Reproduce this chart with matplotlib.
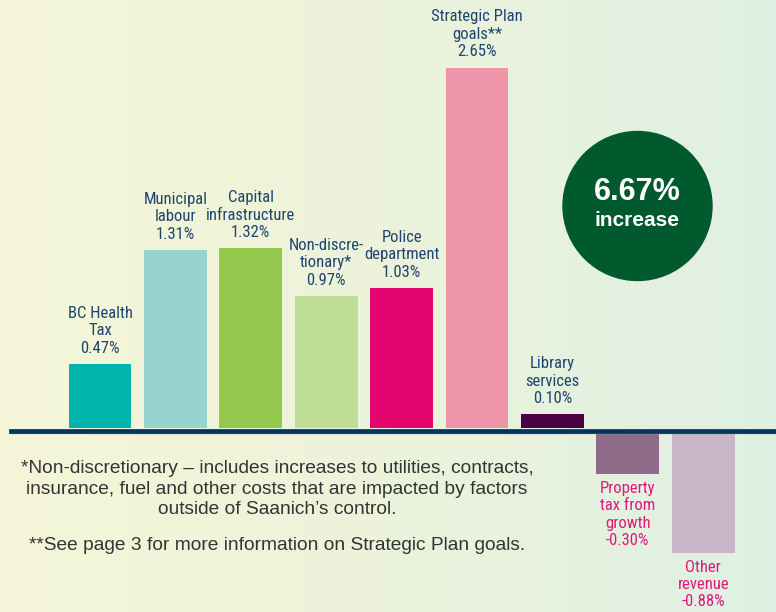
import numpy as np
import matplotlib
matplotlib.use("Agg")
import matplotlib.pyplot as plt
from matplotlib import font_manager
from matplotlib.colors import LinearSegmentedColormap
from matplotlib.patches import Circle

# ---- data ----
categories = ["BC Health\nTax", "Municipal\nlabour", "Capital\ninfrastructure",
              "Non-discre-\ntionary*", "Police\ndepartment", "Strategic Plan\ngoals**",
              "Library\nservices", "Property\ntax from\ngrowth", "Other\nrevenue"]
values = [0.47, 1.31, 1.32, 0.97, 1.03, 2.65, 0.10, -0.30, -0.88]
bar_colors = ["#00B5AD", "#97D4D0", "#94C84C", "#BEDD95", "#E2066E",
              "#EF95AA", "#4A0042", "#8F6C8A", "#C8B6C9"]
total_label = "6.67%"
total_sub = "increase"
footnotes = [
    "*Non-discretionary \u2013 includes increases to utilities, contracts,\n"
    "insurance, fuel and other costs that are impacted by factors\n"
    "outside of Saanich\u2019s control.",
    "**See page 3 for more information on Strategic Plan goals.",
]

fonts = {(f.name, f.stretch) for f in font_manager.fontManager.ttflist}
names = {n for n, s in fonts}
regular = "Liberation Sans" if "Liberation Sans" in names else "DejaVu Sans"
label_font = dict(family=regular, fontsize=11.5)
for cand in ["Liberation Sans Narrow", "Roboto Condensed", "Open Sans Condensed",
             "Noto Sans Condensed", "DejaVu Sans Condensed"]:
    if cand in names:
        label_font = dict(family=cand, fontsize=12)
        break
else:
    cond = [n for n, s in fonts if s in ("condensed", "semi-condensed", 75, 87)
            and n in ("Noto Sans", "Open Sans", "DejaVu Sans", "Roboto")]
    if cond:
        label_font = dict(family=cond[0], fontsize=12, fontstretch="condensed")

W, H = 776, 612
fig = plt.figure(figsize=(W / 100, H / 100), dpi=100)

# background gradient
bg = fig.add_axes([0, 0, 1, 1], zorder=0)
cmap = LinearSegmentedColormap.from_list("bg", ["#F5F6D8", "#ECF3DB", "#DFF0E4"])
bg.imshow(np.linspace(0, 1, 256)[None, :], aspect="auto", cmap=cmap, extent=[0, 1, 0, 1])
bg.set_axis_off()

# main axes (data units)
ax = fig.add_axes([0, 0, 1, 1], zorder=1)
ax.patch.set_alpha(0)
px_per_pct = 136.0
spacing = 75.4
x0 = 100.0
zero_px = 430.5
ax.set_xlim(-x0 / spacing, (W - x0) / spacing)
ax.set_ylim(-(H - zero_px) / px_per_pct, zero_px / px_per_pct)
ax.set_axis_off()

gap = 2.5 / px_per_pct
x = np.arange(len(values))
vals = np.array(values)
bottoms = np.where(vals >= 0, gap, -gap)
ax.bar(x, vals, bottom=bottoms, width=0.835, color=bar_colors, zorder=2)

# baseline
ax.axhline(-2.5 / px_per_pct, xmin=11 / W, xmax=1, color="#8FA8A8", lw=1.0, zorder=3)
ax.axhline(0, xmin=11 / W, xmax=1, color="#003660", lw=3.4, zorder=4)

for xi, v, cat in zip(x, values, categories):
    label = f"{cat}\n{v:.2f}%"
    if v >= 0:
        ax.annotate(label, (xi, v + gap), xytext=(0, 6), textcoords="offset points",
                    ha="center", va="bottom", color="#1F4470", linespacing=1.2,
                    **label_font)
    else:
        ax.annotate(label, (xi, v - gap), xytext=(0, -5), textcoords="offset points",
                    ha="center", va="top", color="#E0197A", linespacing=1.2,
                    **label_font)

# overlay in pixel coordinates for circle and footnotes
ov = fig.add_axes([0, 0, 1, 1], zorder=5)
ov.set_xlim(0, W)
ov.set_ylim(H, 0)
ov.set_axis_off()
ov.patch.set_alpha(0)
ov.add_patch(Circle((637.5, 206), 74.5, color="#005A2E"))
ov.text(637.5, 192, total_label, ha="center", va="center", color="white",
        fontsize=22, fontweight="bold", family=regular)
ov.text(637.5, 221, total_sub, ha="center", va="center", color="white",
        fontsize=15, fontweight="bold", family=regular)

ov.text(277, 489, footnotes[0], ha="center", va="center", color="#333333",
        fontsize=13.8, family=regular, linespacing=1.3)
ov.text(277, 545, footnotes[1], ha="center", va="center", color="#333333",
        fontsize=13.8, family=regular)

fig.savefig("out.png", dpi=100)
